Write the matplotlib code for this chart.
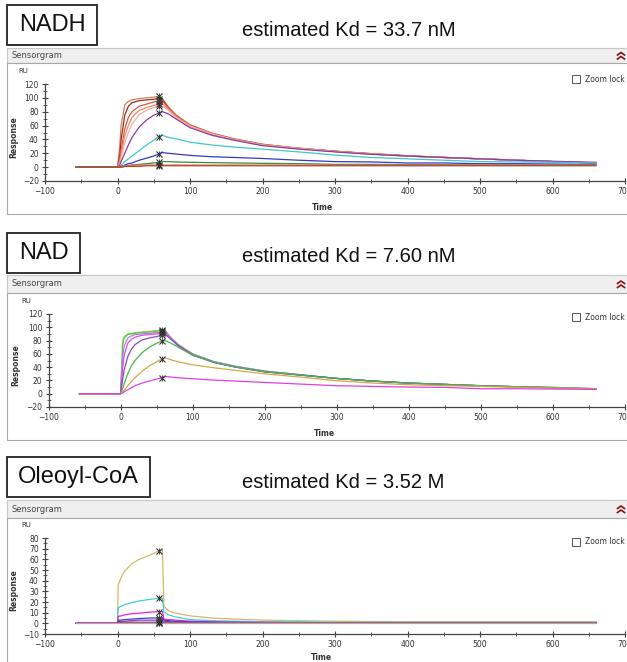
import matplotlib
matplotlib.use('Agg')
import matplotlib.pyplot as plt
from matplotlib.patches import Rectangle
from matplotlib.lines import Line2D
from matplotlib.ticker import MultipleLocator

plt.rcParams['font.family'] = ['Liberation Sans', 'DejaVu Sans']

W, H = 627, 662

# time grid (s) shared by the NADH and NAD sensorgrams
t_main = [-57, 0, 3, 5, 10, 15, 20, 30, 40, 50, 57, 62, 70, 80, 100, 130, 160,
          200, 250, 300, 350, 400, 450, 500, 550, 600, 660]

# NADH responses (RU)
nadh_colors = ['#c9874b', '#9c2a2a', '#e2553a', '#ee8a6a', '#f0b0a0', '#8a3aa8', '#3cc8cc', '#3838c8', '#3a8a3a', '#f06060', '#a05030']
nadh_tan = [0, 0, 30, 60, 90, 95, 97, 99, 100, 101, 102, 99, 87, 76, 61, 49, 41, 33, 27, 23, 19.5, 16.5, 14, 12, 10, 8, 6]
nadh_maroon = [0, 0, 15, 40, 75, 88, 93, 96, 97, 98, 99, 97, 86, 75, 60, 48, 40, 32, 27, 23, 19, 16, 14, 12, 10, 8, 6]
nadh_redorange = [0, 0, 10, 25, 55, 72, 80, 88, 91, 94, 96, 95, 86, 75, 61, 49, 41, 33, 27.5, 23, 19.5, 16.5, 14, 12, 10, 8, 6]
nadh_salmon = [0, 0, 8, 18, 45, 60, 72, 82, 86, 89, 91, 91, 84, 74, 60, 48, 40, 32, 27, 22.5, 19, 16, 14, 12, 10, 8, 6]
nadh_pink = [0, 0, 6, 14, 35, 50, 62, 76, 82, 86, 88, 88, 82, 72, 59, 48, 40, 32, 27, 22.5, 19, 16, 14, 12, 10, 8, 6]
nadh_purple = [0, 0, 3, 8, 20, 32, 43, 58, 68, 75, 78, 80, 77, 70, 57, 46, 39, 31, 26, 22, 18.5, 16, 14, 12, 10, 8.5, 7]
nadh_cyan = [0, 0, 1, 3, 8, 12, 16, 24, 32, 39, 44, 46, 43, 41, 36, 32, 29, 26, 22, 17.5, 14, 12, 10, 8, 7.5, 7, 6]
nadh_blue = [0, 0, 0, 1, 3, 5, 6, 10, 13, 16, 19, 21, 20, 19, 17, 15, 14, 12.5, 10, 8, 7.5, 6, 6, 5, 5, 4.5, 4]
nadh_green = [0, 0, 0, 0, 1, 2, 3, 4, 5, 6, 7, 8, 8, 7.5, 7, 6.5, 6, 5.5, 5, 4, 4, 3.5, 3.5, 3, 3, 3, 3]
nadh_red = [0, 0, 1, 2, 2, 2, 3, 3, 3, 3, 3, 3, 3, 3, 3, 3, 3, 3, 3, 3, 3, 3, 3, 3, 3, 3, 3]
nadh_brown = [0, 0, 0, 0, 1, 1, 1, 1, 2, 2, 2, 2, 2, 2, 2, 2, 2, 2, 2, 2, 2, 2, 2, 2, 2, 2, 2]
nadh_curves = [nadh_tan, nadh_maroon, nadh_redorange, nadh_salmon, nadh_pink, nadh_purple,
               nadh_cyan, nadh_blue, nadh_green, nadh_red, nadh_brown]

# NAD responses (RU)
nad_colors = ['#b4d44a', '#50c850', '#b080e8', '#e050e0', '#8848c8', '#40b848', '#d0a848', '#e040e0']
nad_yellowgreen = [0, 0, 80, 86, 90, 91, 92, 93, 94, 95, 96, 95, 84, 74, 60, 48, 41, 34, 28.5, 23, 19, 16, 14, 12, 10.5, 9.5, 7.5]
nad_green2 = [0, 0, 75, 84, 89, 90, 91, 92, 93, 94, 95, 95, 84, 74, 60, 48, 41, 34, 28.5, 23, 19, 16, 14, 12, 10.5, 9.5, 7.5]
nad_lilac = [0, 0, 55, 72, 84, 87, 89, 90, 91, 92, 93, 93, 83, 73, 59, 48, 41, 34, 28.5, 23, 19, 16, 14, 12, 10.5, 9.5, 7.5]
nad_magenta = [0, 0, 40, 58, 76, 82, 85, 88, 89, 90, 91, 92, 83, 73, 59, 47, 40, 33, 28, 23, 19, 16, 14, 12, 10.5, 9, 7]
nad_violet = [0, 0, 22, 36, 56, 67, 74, 81, 84, 86, 88, 89, 82, 72, 58, 47, 40, 33, 28, 23, 19, 16, 14, 12, 10.5, 9, 7]
nad_green = [0, 0, 8, 15, 30, 42, 50, 62, 70, 76, 79, 80, 76, 70, 58, 47, 40, 33, 28, 23, 19, 16, 14, 12, 10.5, 9, 7.5]
nad_gold = [0, 0, 3, 5, 12, 18, 24, 34, 42, 48, 52, 54, 51, 48, 43.5, 39, 35, 30, 25, 19.5, 16, 13.5, 12, 11, 9.5, 8.5, 7.5]
nad_magenta_low = [0, 0, 1, 3, 6, 9, 12, 16, 19, 22, 24, 26, 25, 24, 22.5, 20.5, 19, 17, 14.5, 12, 11, 10, 9.5, 7.5, 7.5, 7, 6.5]
nad_curves = [nad_yellowgreen, nad_green2, nad_lilac, nad_magenta, nad_violet, nad_green, nad_gold, nad_magenta_low]

# Oleoyl-CoA responses (RU), own time grid because of the sharp drop
t_ole = [-57, 0, 1, 5, 10, 20, 30, 45, 57, 62, 64, 70, 80, 100, 130, 160, 200, 250, 300, 400, 500, 660]
ole_colors = ['#d8b860', '#40d0d0', '#f020e0', '#4040d0', '#8040c0', '#a01818', '#40a040', '#f080e0']
ole_gold = [0, 0, 36, 43, 49, 56, 60, 64, 68, 69, 16, 12, 9.5, 7, 5, 4, 3, 2.5, 2, 1.5, 1.5, 1.5]
ole_cyan = [0, 0, 14.5, 16, 17.5, 19.5, 21, 22.5, 23.5, 23.5, 11, 8, 6, 3.5, 2.5, 2, 1.5, 1.5, 1, 1, 1, 1]
ole_magenta = [0, 0, 6.5, 7, 8, 9, 9.5, 10.5, 11, 11, 4, 3.5, 3, 2, 1.5, 1, 1, 0.5, 0.5, 0.5, 0.5, 0.5]
ole_blue = [0, 0, 3, 3, 3.5, 4, 4.5, 5, 5, 5, 3, 2.5, 2, 1.5, 1, 1, 0.5, 0.5, 0.5, 0.5, 0.5, 0.5]
ole_purple = [0, 0, 1.5, 2, 2, 2.5, 3, 3, 3, 3, 2, 1.5, 1, 1, 0.5, 0.5, 0.5, 0.5, 0.5, 0.5, 0.5, 0.5]
ole_darkred = [0, 0, 1, 1, 1, 1, 1, 1, 1, 1, 1, 1, 1, 0.5, 0.5, 0.5, 0.5, 0.5, 0.5, 0.5, 0.5, 0.5]
ole_green = [0, 0, 0.5, 0.5, 0.5, 0.5, 0.5, 0.5, 0.5, 0.5, 0.5, 0.5, 0.5, 0.5, 0.5, 0.5, 0.5, 0.5, 0.5, 0.5, 0.5, 0.5]
ole_pink = [0, 0, 0, 0, 0, 0, 0, 0, 0, 0, 0, 0, 0, 0, 0, 0, 0, 0, 0, 0, 0, 0]
ole_curves = [ole_gold, ole_cyan, ole_magenta, ole_blue, ole_purple, ole_darkred, ole_green, ole_pink]

report_time = 57

fig = plt.figure(figsize=(W / 100, H / 100), dpi=100)
fig.patch.set_facecolor('white')


def fx(x):
    return x / W


def fy(y):
    return 1 - y / H


def rect(x0, y0, x1, y1, **kw):
    r = Rectangle((fx(x0), fy(y1)), fx(x1) - fx(x0), fy(y0) - fy(y1),
                  transform=fig.transFigure, zorder=-1, **kw)
    fig.patches.append(r)


def chevrons(xc, yc):
    # the little red "collapse" double caret in the window header
    for dy in (-3, 1):
        xs = [fx(xc - 3.5), fx(xc), fx(xc + 3.5)]
        ys = [fy(yc + dy + 2.5), fy(yc + dy), fy(yc + dy + 2.5)]
        fig.lines.append(Line2D(xs, ys, transform=fig.transFigure, color='#8b1010', lw=1.2))


def panel(name, box, kd, title_xy, head, frame_bottom, axpos, ylim, ymaj, t, curves, colors, labels):
    # compound box and Kd title
    rect(box[0], box[1], box[2], box[3], facecolor='white', edgecolor='#222222', lw=1.3)
    fig.text(fx((box[0] + box[2]) / 2), fy((box[1] + box[3]) / 2), name, fontsize=17,
             ha='center', va='center', color='#111111')
    fig.text(fx(title_xy[0]), fy(title_xy[1]), 'estimated Kd = ' + kd, fontsize=14.5,
             ha='center', va='center', color='#111111')
    # Sensorgram window
    rect(7, head[0], 640, head[1], facecolor='#efefef', edgecolor='#c8c8c8', lw=0.8)
    rect(7, head[1], 640, frame_bottom, facecolor='white', edgecolor='#a8a8a8', lw=0.8)
    fig.text(fx(11), fy((head[0] + head[1]) / 2), 'Sensorgram', fontsize=6,
             ha='left', va='center', color='#444444', family='DejaVu Sans')
    chevrons(621, (head[0] + head[1]) / 2)
    # zoom lock checkbox
    zy = labels['zoom']
    rect(572, zy - 4, 580, zy + 4, facecolor='white', edgecolor='#555555', lw=0.7)
    fig.text(fx(585), fy(zy), 'Zoom lock', fontsize=5.5, ha='left', va='center',
             color='#333333', family='DejaVu Sans')
    fig.text(fx(labels['ru'][0]), fy(labels['ru'][1]), 'RU', fontsize=5, ha='center', va='center',
             color='#333333', family='DejaVu Sans')
    fig.text(fx(labels['resp'][0]), fy(labels['resp'][1]), 'Response', fontsize=5.5, rotation=90,
             ha='center', va='center', color='#333333', fontweight='bold', family='DejaVu Sans')
    fig.text(fx(labels['time'][0]), fy(labels['time'][1]), 'Time', fontsize=5.5, ha='center',
             va='center', color='#333333', fontweight='bold', family='DejaVu Sans')

    x0, yb, x1, yt = axpos
    ax = fig.add_axes([fx(x0), fy(yb), fx(x1) - fx(x0), fy(yt) - fy(yb)])
    ax.set_zorder(2)
    ax.patch.set_alpha(0)
    for s in ['top', 'right']:
        ax.spines[s].set_visible(False)
    for s in ['left', 'bottom']:
        ax.spines[s].set_color('#444444')
        ax.spines[s].set_linewidth(0.9)
    ax.set_xlim(-100, 700)
    ax.set_ylim(*ylim)
    ax.xaxis.set_major_locator(MultipleLocator(100))
    ax.xaxis.set_minor_locator(MultipleLocator(50))
    ax.yaxis.set_major_locator(MultipleLocator(ymaj))
    ax.yaxis.set_minor_locator(MultipleLocator(ymaj / 2))
    ax.tick_params(which='major', direction='inout', length=5, width=0.8, color='#444444',
                   labelsize=5.5, labelcolor='#333333', pad=2)
    ax.tick_params(which='minor', direction='inout', length=2.5, width=0.6, color='#444444')
    for lab in ax.get_xticklabels() + ax.get_yticklabels():
        lab.set_family('DejaVu Sans')

    i_rep = t.index(report_time)
    for y, c in zip(curves, colors):
        ax.plot(t, y, color=c, lw=0.9, solid_joinstyle='round')
    for y in curves:
        ax.plot(t[i_rep], y[i_rep], marker='x', ms=4, mew=0.8, color='#333333', clip_on=False)
        ax.plot(t[i_rep], y[i_rep], marker='|', ms=5, mew=0.6, color='#333333', clip_on=False)
    return ax


panel('NADH', (7, 5, 97, 45), '33.7 nM', (349, 30), (48, 63), 214,
      (45, 181, 625, 84), (-20, 120), 20, t_main, nadh_curves, nadh_colors,
      {'zoom': 79, 'ru': (23, 71), 'resp': (14, 137), 'time': (322, 207)})

panel('NAD', (7, 233, 80, 273), '7.60 nM', (349, 256), (275, 293), 440,
      (48.5, 407, 625, 314), (-20, 120), 20, t_main, nad_curves, nad_colors,
      {'zoom': 317, 'ru': (26, 301), 'resp': (16, 365), 'time': (324, 434)})

panel('Oleoyl-CoA', (7, 457, 150, 497), '3.52 M', (343, 483), (500, 518), 680,
      (45, 634, 625, 538), (-10, 80), 10, t_ole, ole_curves, ole_colors,
      {'zoom': 542, 'ru': (26, 525), 'resp': (14, 590), 'time': (321, 657)})

fig.savefig('out.png', dpi=100)
